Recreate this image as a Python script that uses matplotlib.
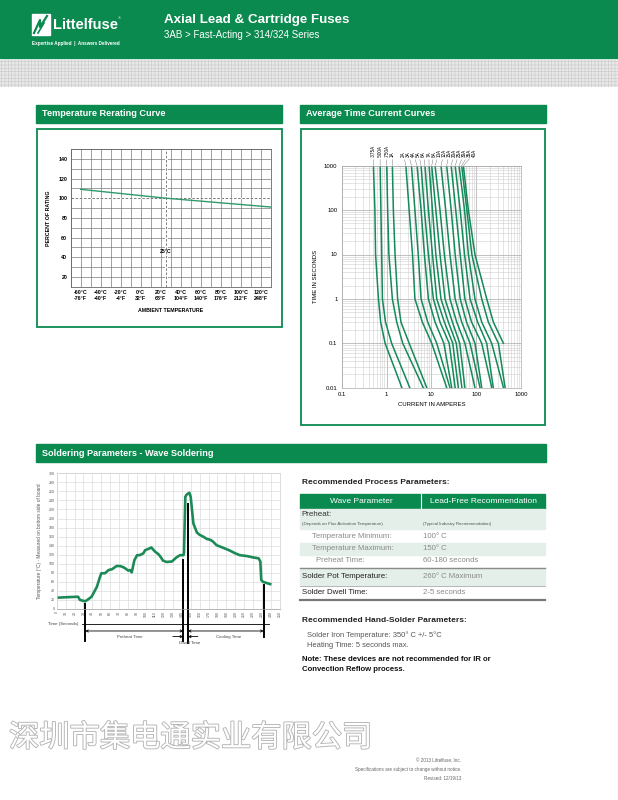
import numpy as np
import matplotlib
matplotlib.use('Agg')
from matplotlib import pyplot as plt
from matplotlib import patches, patheffects
from matplotlib.ticker import LogLocator, NullFormatter

plt.rcParams['font.family'] = ['Liberation Sans', 'DejaVu Sans']
plt.rcParams['hatch.linewidth'] = 0.4

W, H = 618, 800
GREEN = '#0b8a50'
CURVE = '#14895a'
ROW_BG = '#e3efe8'

# --- temperature rerating curve
rerate_temp = [-60, 25, 130]
rerate_pct = [109, 100, 91]
rerate_ticks_c = [-60, -40, -20, 0, 20, 40, 60, 80, 100, 120]
rerate_ticks_f = [-76, -40, -4, 32, 68, 104, 140, 176, 212, 248]
rerate_ticks_pct = [20, 40, 60, 80, 100, 120, 140]

# --- average time current curves (amps at each time)
ratings = ['.375A', '.500A', '.750A', '1A', '2A', '3A', '4A', '5A', '6A', '7A',
           '8A', '10A', '12A', '15A', '20A', '25A', '30A', '35A', '40A']
tc_times = [1000, 100, 10, 1, 0.3, 0.1, 0.01]
tc_amps = [
    [0.51, 0.55, 0.57, 0.66, 0.74, 0.93, 2.2],
    [0.72, 0.75, 0.78, 0.81, 0.95, 1.3, 3.3],
    [1.01, 1.06, 1.13, 1.35, 1.69, 2.3, 6.6],
    [1.35, 1.42, 1.55, 1.77, 2.1, 3.2, 7.9],
    [2.7, 3.2, 3.8, 4.3, 6.3, 10.2, 22],
    [3.6, 4.3, 5.1, 5.9, 8.3, 13.2, 26],
    [4.8, 5.9, 7.0, 8.6, 12.1, 19, 28.5],
    [5.9, 7.0, 8.6, 11.1, 15.6, 25, 34],
    [7.2, 8.6, 10.6, 13.2, 19.5, 30, 40],
    [8.9, 10.6, 12.6, 16.4, 24, 36, 48],
    [10.2, 12.6, 15.6, 20.2, 29.5, 43, 56],
    [12.1, 15.6, 19.5, 26, 36.8, 56, 94],
    [16.4, 20.9, 26, 34, 47.5, 73, 122],
    [22, 27.7, 34, 44, 61, 94, 133],
    [27.7, 35, 44, 56, 79, 133, 223],
    [34, 44, 55, 73, 108, 172, 241],
    [41.5, 55, 67, 94, 133, 222, 406],
    [47.5, 62, 80, 133, 187, 313, 442],
    [51.8, 67, 94, 172, 242, 405, np.nan],
]

# --- wave soldering profile
solder_t = [0, 22, 24, 26, 32, 35, 39, 45, 48.5, 50, 54, 58, 62, 67, 71, 75, 78, 80,
            82, 84, 87, 90, 93, 97, 99, 104, 106, 110, 114, 116, 119, 123, 129, 134,
            138, 142, 142.5, 144, 145.5, 148.5, 150, 153, 157, 160, 164, 168, 172, 175,
            179, 183, 188, 194, 200, 205, 213, 220, 226, 228, 229, 231, 239]
solder_temp = [25, 27, 27, 20, 17, 21, 27, 49, 71, 79, 79, 86, 88, 95, 95, 92, 88, 85,
               86, 81, 108, 119, 119, 123, 130, 134, 136, 127, 121, 116, 107, 104, 105, 114,
               119, 119, 125, 248, 253, 257, 248, 189, 169, 164, 160, 155, 153, 149,
               141, 138, 134, 129, 123, 119, 117, 114, 112, 105, 64, 60, 55]
marker_t = [31.9, 141.7, 146.9, 231.7]
marker_top = [12, 108, 232, 52]
marker_bottom = [-70, -70, -76, -62]

# --- process parameter table
table_rows = [
    ('Temperature Minimum:', '100° C'),
    ('Temperature Maximum:', '150° C'),
    ('Preheat Time:', '60-180 seconds'),
]


def px_axes(fig, x0, y0, x1, y1):
    return fig.add_axes([x0 / W, 1 - y1 / H, (x1 - x0) / W, (y1 - y0) / H])


fig = plt.figure(figsize=(W / 100, H / 100), dpi=100)
page = fig.add_axes([0, 0, 1, 1])
page.set_xlim(0, W)
page.set_ylim(H, 0)
page.axis('off')

# header
page.add_patch(patches.Rectangle((0, 0), W, 58, color=GREEN))
page.add_patch(patches.Rectangle((0, 60), W, 27, facecolor='#e8e8e8',
                                 edgecolor='#c9c9c9', hatch='+++++', lw=0))
page.add_patch(patches.Rectangle((32, 14), 18, 21, color='white'))
page.plot([34, 40, 40, 47], [33, 20, 27, 16], color=GREEN, lw=1.6)
page.plot([38, 44], [33, 23], color=GREEN, lw=1.2)
page.text(53, 25, 'Littelfuse', color='white', fontsize=10.5, fontweight='bold',
          va='center')
page.text(118, 18, '®', color='white', fontsize=3, va='center')
page.text(32, 43.5, 'Expertise Applied  |  Answers Delivered', color='white', fontsize=3.3,
          fontweight='bold', va='center')
page.text(164, 20, 'Axial Lead & Cartridge Fuses', color='white', fontsize=9.6,
          fontweight='bold', va='center')
page.text(164, 35.5, '3AB > Fast-Acting > 314/324 Series', color='white', fontsize=7,
          va='center')

# section bars and frames
for x0, y0, w, title in [(36, 105, 246, 'Temperature Rerating Curve'),
                         (300, 105, 246, 'Average Time Current Curves'),
                         (36, 444, 510, 'Soldering Parameters - Wave Soldering')]:
    page.add_patch(patches.Rectangle((x0, y0), w, 17.5, color=GREEN))
    page.text(x0 + 6, y0 + 9, title, color='white', fontsize=6.6, fontweight='bold',
              va='center')
page.add_patch(patches.Rectangle((36.5, 129), 245, 198, fill=False, edgecolor=GREEN, lw=1.3))
page.add_patch(patches.Rectangle((300.7, 129.3), 244.3, 295.7, fill=False, edgecolor=GREEN, lw=1.3))

# --- temperature rerating chart
ax1 = px_axes(fig, 70.7, 149, 270.7, 286.7)
ax1.set_xlim(-70, 130)
ax1.set_ylim(10, 150)
ax1.set_xticks(np.arange(-70, 131, 10), minor=True)
ax1.set_yticks(np.arange(10, 151, 10), minor=True)
ax1.set_xticks(rerate_ticks_c)
ax1.set_xticklabels([f'{c}°C\n{f}°F' for c, f in zip(rerate_ticks_c, rerate_ticks_f)],
                    fontsize=3.8, fontweight='bold', linespacing=1.1)
ax1.set_yticks(rerate_ticks_pct)
ax1.set_yticklabels([str(v) for v in rerate_ticks_pct], fontsize=3.8, fontweight='bold')
ax1.grid(which='both', color='#7a7a7a', lw=0.5)
ax1.tick_params(which='both', length=0, pad=2.5)
for s in ax1.spines.values():
    s.set_color('#666')
    s.set_linewidth(0.6)
ax1.axhline(100, color='white', lw=0.9)
ax1.axhline(100, color='#666', lw=0.6, ls=(0, (3, 2)))
ax1.axvline(25, color='white', lw=2.0)
ax1.axvline(25, color='#666', lw=0.6, ls=(0, (3, 2)))
ax1.plot(rerate_temp, rerate_pct, color='#2f9a6c', lw=1.0)
ax1.text(25, 46, '25°C', fontsize=3.8, fontweight='bold', ha='center', va='center')
ax1.set_ylabel('PERCENT OF RATING', fontsize=3.8, fontweight='bold', labelpad=5)
ax1.set_xlabel('AMBIENT TEMPERATURE', fontsize=3.8, fontweight='bold', labelpad=5)

# --- time current chart
ax2 = px_axes(fig, 341.7, 165.7, 521, 387.7)
ax2.set_xscale('log')
ax2.set_yscale('log')
ax2.set_xlim(0.1, 1000)
ax2.set_ylim(0.01, 1000)
ax2.xaxis.set_minor_locator(LogLocator(subs=range(2, 10)))
ax2.yaxis.set_minor_locator(LogLocator(subs=range(2, 10)))
ax2.xaxis.set_minor_formatter(NullFormatter())
ax2.yaxis.set_minor_formatter(NullFormatter())
ax2.set_xticks([0.1, 1, 10, 100, 1000])
ax2.set_xticklabels(['0.1', '1', '10', '100', '1000'], fontsize=4.3)
ax2.set_yticks([0.01, 0.1, 1, 10, 100, 1000])
ax2.set_yticklabels(['0.01', '0.1', '1', '10', '100', '1000'], fontsize=4.3)
ax2.grid(which='major', color='#a8a8a8', lw=0.5)
ax2.grid(which='minor', color='#d0d0d0', lw=0.4)
ax2.tick_params(which='both', length=0, pad=3)
for s in ax2.spines.values():
    s.set_color('#aaa')
    s.set_linewidth(0.5)
for row in tc_amps:
    ax2.plot(row, tc_times, color=CURVE, lw=1.1)
for k, (name, row) in enumerate(zip(ratings, tc_amps)):
    if k < 4:
        lx = (np.log10(row[0]) + 1) / 4
    else:
        lx = (403.3 + (k - 4) * 5.1 - 341.7) / 179.3
    ax2.annotate(name, xy=(row[0], 1000), xytext=(lx, 1.04), textcoords='axes fraction',
                 rotation=90, fontsize=3.3, ha='center', va='bottom',
                 arrowprops=dict(arrowstyle='-', lw=0.3, color='#666',
                                 shrinkA=0, shrinkB=0))
ax2.set_ylabel('TIME IN SECONDS', fontsize=4.3, labelpad=4)
ax2.set_xlabel('CURRENT IN AMPERES', fontsize=4.3, labelpad=4)

# --- soldering chart
ax3 = px_axes(fig, 56.7, 473.3, 280, 609)
ax3.set_xlim(0, 250)
ax3.set_ylim(0, 300)
ax3.set_xticks(np.arange(0, 251, 10))
ax3.set_xticklabels([str(v) for v in range(0, 251, 10)], fontsize=2.6, rotation=90,
                    color='#555')
ax3.set_yticks(np.arange(0, 301, 20))
ax3.set_yticklabels([str(v) for v in range(0, 301, 20)], fontsize=2.6, color='#555')
ax3.grid(color='#dcdcdc', lw=0.5)
ax3.tick_params(length=0, pad=1.5)
for s in ax3.spines.values():
    s.set_color('#d0d0d0')
    s.set_linewidth(0.5)
ax3.spines['bottom'].set_color('#999')
ax3.plot(solder_t, solder_temp, color='#1b8a57', lw=1.9, solid_joinstyle='round')
for t, top, bot in zip(marker_t, marker_top, marker_bottom):
    ax3.plot([t, t], [top, bot], color='black', lw=1.4, clip_on=False)
ax3.set_ylabel('Temperature (°C) - Measured on bottom side of board', fontsize=3.4,
               color='#555', labelpad=5)
ax3.text(-9.7, -33, 'Time (Seconds)', fontsize=3.2, color='#444', va='center',
         clip_on=False)
ax3.plot([27.9, 238], [-34, -34], color='black', lw=0.6, clip_on=False)
arrow = dict(arrowstyle='<->', lw=0.6, color='black', shrinkA=0, shrinkB=0,
             mutation_scale=4)
ax3.annotate('', xy=(marker_t[0], -48.6), xytext=(marker_t[1], -48.6), arrowprops=arrow,
             annotation_clip=False)
ax3.annotate('', xy=(marker_t[2], -48.6), xytext=(marker_t[3], -48.6), arrowprops=arrow,
             annotation_clip=False)
one_way = dict(arrowstyle='->', lw=0.6, color='black', shrinkA=0, shrinkB=0,
               mutation_scale=4)
ax3.annotate('', xy=(marker_t[1], -61), xytext=(130, -61), arrowprops=one_way,
             annotation_clip=False)
ax3.annotate('', xy=(marker_t[2], -61), xytext=(158, -61), arrowprops=one_way,
             annotation_clip=False)
ax3.text(81.8, -61, 'Preheat Time', fontsize=3.2, color='#444', ha='center', va='center',
         clip_on=False)
ax3.text(192, -61, 'Cooling Time', fontsize=3.2, color='#444', ha='center', va='center',
         clip_on=False)
ax3.text(148.8, -76, 'Dwell Time', fontsize=3.2, color='#444', ha='center', va='center',
         clip_on=False)

# --- process parameter table
page.text(301.7, 483, 'Recommended Process Parameters:', fontsize=6, fontweight='bold',
          va='center', color='#222')
page.add_patch(patches.Rectangle((300, 494), 245, 15.3, color=GREEN))
page.plot([421, 421], [494, 509.3], color='white', lw=0.8)
page.text(361, 501.7, 'Wave Parameter', fontsize=6, color='white', ha='center', va='center')
page.text(483, 501.7, 'Lead-Free Recommendation', fontsize=6, color='white', ha='center',
          va='center')
page.add_patch(patches.Rectangle((300, 509.3), 245, 20, color=ROW_BG))
page.text(301.7, 515, 'Preheat:', fontsize=5.8, color='#333', va='center')
page.text(301.7, 523.5, '(Depends on Flux Activation Temperature)', fontsize=3.2,
          color='#555', va='center')
page.text(423.3, 523.5, '(Typical Industry Recommendation)', fontsize=3.2, color='#555',
          va='center')
row_top = [529.3, 542.7, 555]
row_h = [13.4, 12.3, 11.7]
row_indent = [311.7, 311.7, 315.7]
for i, (label, value) in enumerate(table_rows):
    if i % 2 == 1:
        page.add_patch(patches.Rectangle((300, row_top[i]), 245, row_h[i], color=ROW_BG))
    yc = row_top[i] + row_h[i] / 2
    page.text(row_indent[i], yc, label, fontsize=5.6, color='#8a8a8a', va='center')
    page.text(423.3, yc, value, fontsize=5.6, color='#8a8a8a', va='center')
page.plot([300, 545], [567.5, 567.5], color='#8a8a8a', lw=1.0)
page.add_patch(patches.Rectangle((300, 568.2), 245, 16.8, color=ROW_BG))
page.text(301.7, 577, 'Solder Pot Temperature:', fontsize=5.7, color='#222', va='center')
page.text(423.3, 577, '260° C Maximum', fontsize=5.6, color='#8a8a8a', va='center')
page.plot([300, 545], [585.5, 585.5], color='#aaaaaa', lw=0.6)
page.text(301.7, 592, 'Solder Dwell Time:', fontsize=5.7, color='#222', va='center')
page.text(423.3, 592, '2-5 seconds', fontsize=5.6, color='#8a8a8a', va='center')
page.plot([300, 545], [599.6, 599.6], color='#777777', lw=1.6)

page.text(301.7, 620.7, 'Recommended Hand-Solder Parameters:', fontsize=6,
          fontweight='bold', va='center', color='#222')
page.text(306.7, 635, 'Solder Iron Temperature: 350° C +/- 5°C', fontsize=5.4,
          color='#555', va='center')
page.text(306.7, 645.3, 'Heating Time: 5 seconds max.', fontsize=5.4, color='#555',
          va='center')
page.text(301.7, 659.5, 'Note: These devices are not recommended for IR or', fontsize=5.6,
          fontweight='bold', va='center', color='#111')
page.text(301.7, 669.5, 'Convection Reflow process.', fontsize=5.6, fontweight='bold',
          va='center', color='#111')

# watermark
page.text(9, 738, '深圳市集电通实业有限公司', fontsize=21.8,
          family=['Noto Sans CJK SC', 'DejaVu Sans'], color='white', va='center',
          path_effects=[patheffects.withStroke(linewidth=1.3, foreground='#b4b4b4')])

# footer
page.text(461, 761, '© 2013 Littelfuse, Inc.', fontsize=3.3, color='#666', ha='right',
          va='center')
page.text(461, 769.5, 'Specifications are subject to change without notice.', fontsize=3.3,
          color='#666', ha='right', va='center')
page.text(461, 778, 'Revised: 12/19/13', fontsize=3.3, color='#666', ha='right',
          va='center')

fig.savefig('out.png', dpi=100)
